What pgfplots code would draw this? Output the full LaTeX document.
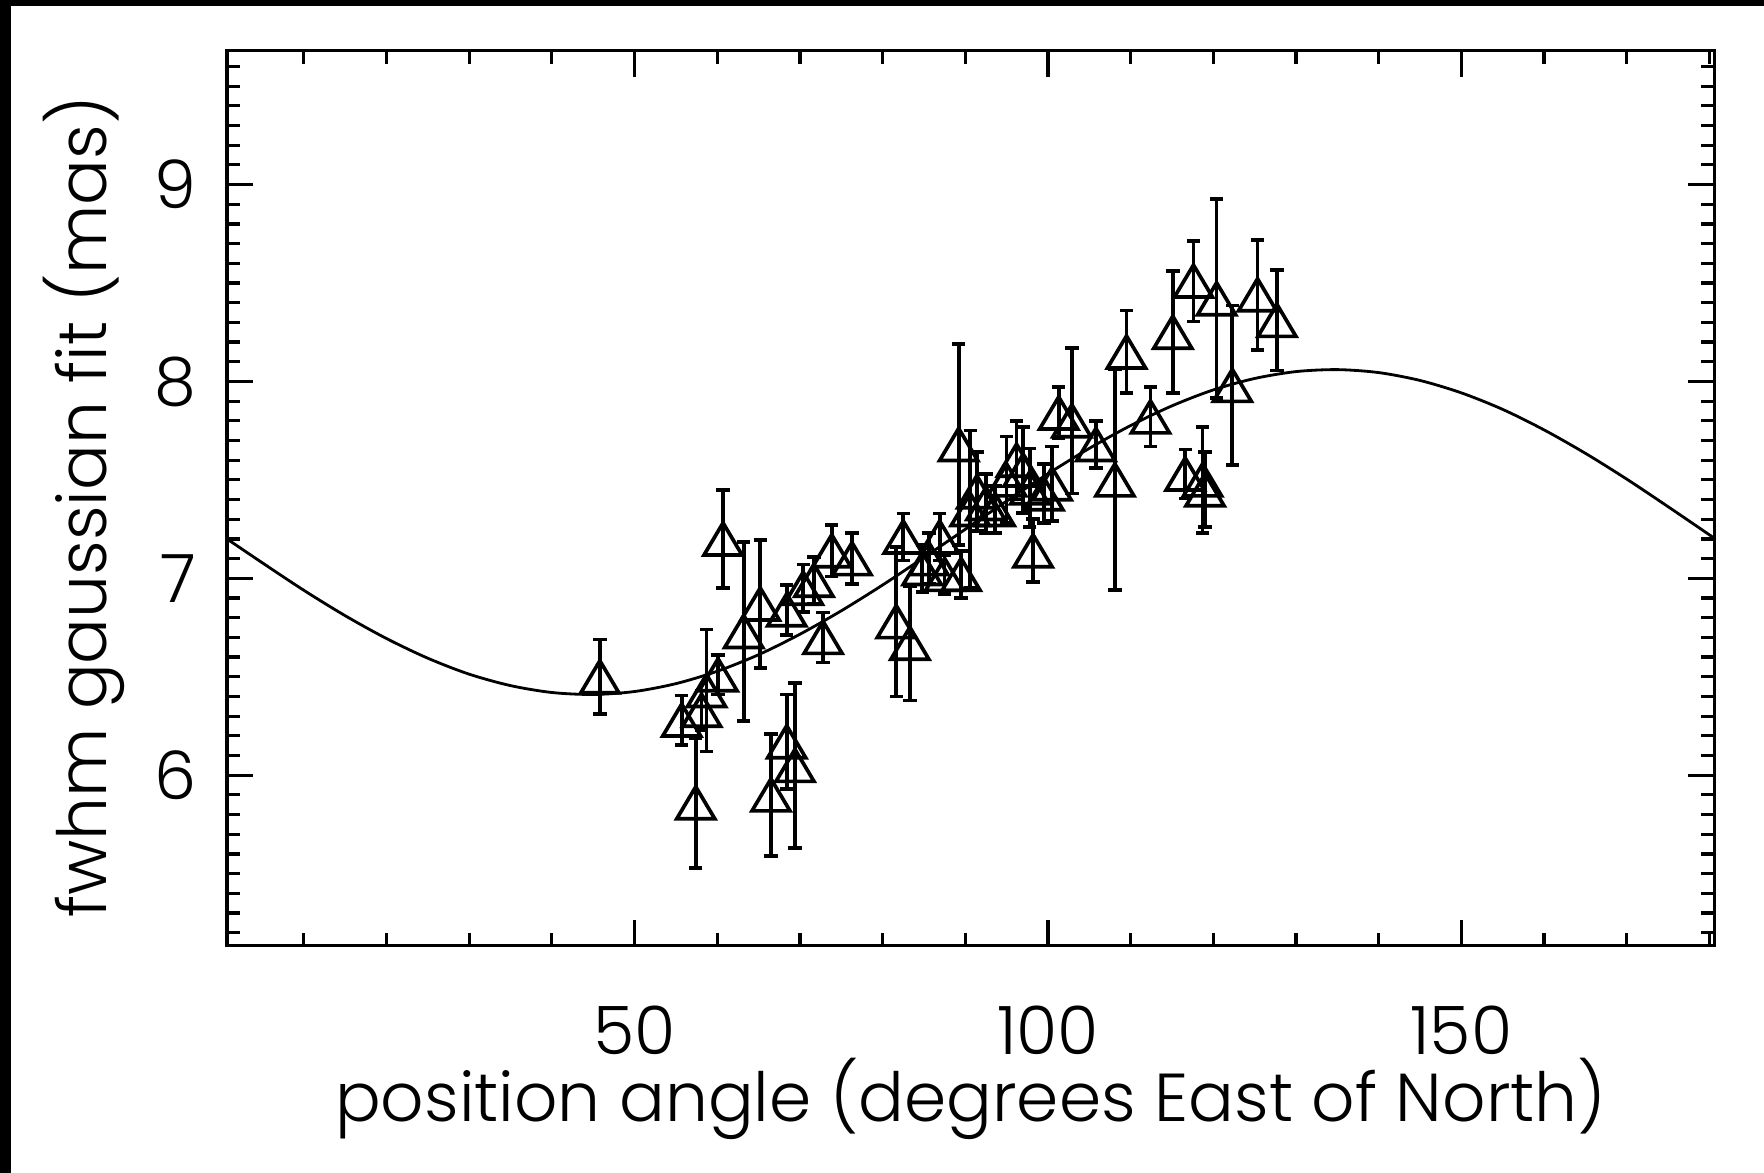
\documentclass[border=0pt]{standalone}
\usepackage{pgfplots}
\usepackage{pgfplotstable}
\pgfplotsset{compat=1.18}
\usepackage{fontspec}
\setmainfont{Poppins}[UprightFont=* Light]
\pgfdeclareplotmark{idltri}{%
  \pgfpathmoveto{\pgfpoint{0cm}{0.16cm}}%
  \pgfpathlineto{\pgfpoint{0.19cm}{-0.16cm}}%
  \pgfpathlineto{\pgfpoint{-0.19cm}{-0.16cm}}%
  \pgfpathclose
  \pgfusepathqstroke}
\pgfplotstableread{
x y ey
45.8 6.50 0.19
55.7 6.28 0.125
57.4 5.86 0.33
58.1 6.33 0.10
58.7 6.43 0.31
60.1 6.51 0.10
60.7 7.20 0.25
63.2 6.73 0.455
65.2 6.87 0.325
66.5 5.90 0.31
68.4 6.84 0.127
68.4 6.17 0.24
69.4 6.05 0.42
70.4 6.95 0.12
71.7 6.99 0.12
72.8 6.70 0.127
73.85 7.14 0.13
76.3 7.10 0.13
81.65 6.78 0.38
82.5 7.21 0.12
83.3 6.67 0.29
84.8 7.05 0.12
85.6 7.10 0.13
86.9 7.21 0.12
87.5 7.02 0.10
89.2 7.68 0.51
89.5 7.02 0.12
90.6 7.35 0.40
91.4 7.44 0.20
92.5 7.38 0.15
93.6 7.35 0.12
95.0 7.50 0.22
96.2 7.60 0.20
97.0 7.55 0.22
97.8 7.46 0.20
98.2 7.14 0.16
99.5 7.43 0.15
100.5 7.48 0.19
101.3 7.84 0.13
102.9 7.80 0.37
105.8 7.68 0.12
108.1 7.50 0.56
109.5 8.15 0.21
112.4 7.82 0.15
115.1 8.25 0.31
116.6 7.53 0.125
117.6 8.51 0.205
118.7 7.50 0.27
119.0 7.45 0.19
120.4 8.42 0.505
122.3 7.98 0.405
125.35 8.44 0.28
127.7 8.31 0.255
}\data
\begin{document}
\begin{tikzpicture}[x=1cm,y=1cm]
\fill[black] (0,0) rectangle (17.64,11.73);
\fill[white] (0.11,0) rectangle (17.64,11.67);
\path[use as bounding box] (0,0) rectangle (17.64,11.73);
\begin{axis}[
  at={(2.27cm,2.273cm)}, anchor=south west,
  scale only axis, width=14.873cm, height=8.95cm,
  xmin=0.7, xmax=180.6, ymin=5.134, ymax=9.68,
  xtick={50,100,150}, minor xtick={10,20,...,180},
  ytick={6,7,8,9}, minor ytick={5.2,5.3,...,9.65},
  major tick length=0.26cm, minor tick length=0.13cm,
  tick style={black, line width=0.9pt},
  axis line style={black, line width=1pt},
  /pgf/number format/assume math mode=true,
  ticklabel style={font=\fontsize{19}{21}\selectfont},
  xticklabel style={anchor=north, inner sep=0pt, yshift=-0.6cm},
  yticklabel style={anchor=east, inner sep=0pt, xshift=-0.3cm},
  label style={font=\fontsize{19.3}{22}\selectfont},
  xlabel={position angle (degrees East of North)},
  ylabel={fwhm gaussian fit (mas)},
  xlabel style={at={(axis description cs:0.5,-0.196)}, anchor=base, inner sep=0pt},
  ylabel style={at={(axis description cs:-0.0807,0.49)}, anchor=base, inner sep=0pt},
]
\addplot[black, line width=0.8pt, smooth] coordinates {
(0.7,7.200) (5,7.078) (10,6.939) (15,6.810) (20,6.694) (25,6.594) (30,6.513)
(35,6.455) (40,6.420) (45,6.410) (50,6.425) (55,6.465) (60,6.528) (65,6.612)
(70,6.716) (75,6.835) (80,6.966) (85,7.106) (90,7.249) (95,7.392) (100,7.531)
(105,7.660) (110,7.776) (115,7.876) (120,7.957) (125,8.015) (130,8.050)
(135,8.060) (140,8.045) (145,8.005) (150,7.942) (155,7.858) (160,7.754)
(165,7.635) (170,7.504) (175,7.364) (180,7.221) (180.6,7.203)
};
\addplot[black, only marks, mark=idltri, mark options={line width=1.05pt},
  error bars/.cd, y dir=both, y explicit,
  error bar style={line width=1.05pt},
  error mark options={rotate=90, black, line width=1.05pt, mark size=0.067cm}]
  table[x=x, y=y, y error=ey] {\data};
\end{axis}
\end{tikzpicture}
\end{document}
